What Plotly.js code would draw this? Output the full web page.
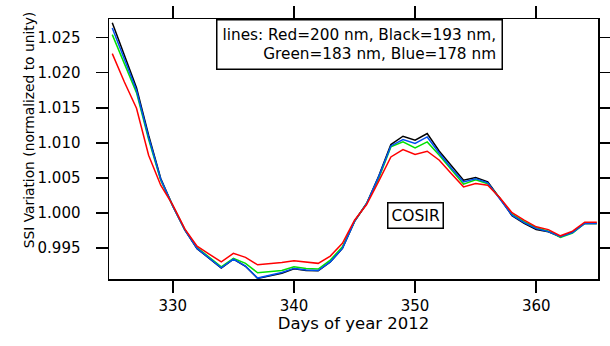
<!DOCTYPE html>
<html>
<head>
<meta charset="utf-8">
<script src="https://cdn.plot.ly/plotly-3.0.1.min.js"></script>
<style>html,body{margin:0;padding:0;background:#fff;}#chart{width:610px;height:346px;}</style>
</head>
<body>
<div id="chart"></div>
<script>
const days = [325,326,327,328,329,330,331,332,333,334,335,336,337,338,339,340,341,342,343,344,345,346,347,348,349,350,351,352,353,354,355,356,357,358,359,360,361,362,363,364,365];
const black193 = [1.02714,1.02248,1.01785,1.01108,1.00491,1.00097,0.99755,0.99491,0.99356,0.99215,0.99342,0.99240,0.99066,0.99098,0.99140,0.99205,0.99180,0.99175,0.99300,0.99494,0.99880,1.00135,1.00528,1.00976,1.01094,1.01037,1.01132,1.00880,1.00667,1.00467,1.00506,1.00443,1.00207,0.99962,0.99850,0.99765,0.99731,0.99660,0.99726,0.99850,0.99850];
const blue178 = [1.02637,1.02194,1.01749,1.01080,1.00481,1.00097,0.99755,0.99494,0.99356,0.99218,0.99342,0.99242,0.99071,0.99107,0.99150,0.99209,0.99185,0.99178,0.99303,0.99494,0.99880,1.00135,1.00518,1.00956,1.01047,1.00990,1.01084,1.00852,1.00638,1.00443,1.00489,1.00429,1.00207,0.99969,0.99862,0.99776,0.99734,0.99660,0.99719,0.99850,0.99850];
const green183 = [1.02543,1.02130,1.01716,1.01051,1.00467,1.00100,0.99760,0.99506,0.99370,0.99232,0.99352,0.99281,0.99147,0.99164,0.99178,0.99232,0.99207,0.99199,0.99328,0.99517,0.99880,1.00135,1.00496,1.00942,1.01013,1.00927,1.01013,1.00823,1.00610,1.00410,1.00474,1.00417,1.00210,0.99983,0.99876,0.99790,0.99740,0.99651,0.99712,0.99850,0.99850];
const red200 = [1.02272,1.01868,1.01493,1.00823,1.00396,1.00111,0.99769,0.99527,0.99413,0.99303,0.99423,0.99366,0.99261,0.99275,0.99295,0.99318,0.99299,0.99281,0.99385,0.99566,0.99897,1.00120,1.00453,1.00799,1.00905,1.00833,1.00880,1.00752,1.00560,1.00372,1.00420,1.00396,1.00218,1.00004,0.99897,0.99802,0.99762,0.99674,0.99741,0.99869,0.99869];

const FONT = 'DejaVu Sans, sans-serif';
function tr(y, color, name){
  return {x: days, y: y, type: 'scatter', mode: 'lines', name: name,
          line: {color: color, width: 1.5}, hoverinfo: 'skip'};
}
const data = [
  tr(black193, '#000000', 'Black=193 nm'),
  tr(green183, '#00e000', 'Green=183 nm'),
  tr(blue178, '#0050f0', 'Blue=178 nm'),
  tr(red200, '#ff0000', 'Red=200 nm')
];
const axisCommon = {
  showline: true, linecolor: '#000', linewidth: 1.5, mirror: 'ticks',
  ticks: 'outside', ticklen: 12, tickwidth: 1.5, tickcolor: '#000',
  showgrid: false, zeroline: false,
  tickfont: {family: FONT, size: 15, color: '#000'}
};
const layout = {
  width: 610, height: 346,
  margin: {l: 109, r: 12, t: 19, b: 67},
  paper_bgcolor: '#fff', plot_bgcolor: '#fff',
  showlegend: false,
  font: {family: FONT, color: '#000'},
  xaxis: Object.assign({}, axisCommon, {
    range: [324.73, 365.1], dtick: 10, tick0: 330,
    title: {text: 'Days of year 2012', font: {family: FONT, size: 16.5, color: '#000'}, standoff: 0}
  }),
  yaxis: Object.assign({}, axisCommon, {
    range: [0.99058, 1.02766], dtick: 0.005, tick0: 1.0, tickformat: '.3f',
    ticklabelstandoff: 12
  }),
  annotations: [
    {xref: 'paper', yref: 'paper', x: -0.163, y: 0.573, xanchor: 'center', yanchor: 'middle',
     text: 'SSI Variation (normalized to unity)', textangle: -90, showarrow: false,
     font: {family: FONT, size: 13.8, color: '#000'}},
    {xref: 'paper', yref: 'paper', x: 0.8057, y: 1.0, xanchor: 'right', yanchor: 'top',
     text: 'lines: Red=200 nm, Black=193 nm,<br>Green=183 nm, Blue=178 nm', align: 'right',
     showarrow: false, bgcolor: '#fff', bordercolor: '#000', borderwidth: 1.5, borderpad: 5,
     font: {family: FONT, size: 15.3, color: '#000'}},
    {xref: 'x', yref: 'y', x: 350, y: 0.99966, xanchor: 'center', yanchor: 'middle',
     text: 'COSIR', showarrow: false, bgcolor: '#fff', bordercolor: '#000', borderwidth: 1.5, borderpad: 3,
     font: {family: FONT, size: 15.5, color: '#000'}}
  ]
};
Plotly.newPlot('chart', data, layout, {staticPlot: true, displayModeBar: false});
</script>
</body>
</html>
